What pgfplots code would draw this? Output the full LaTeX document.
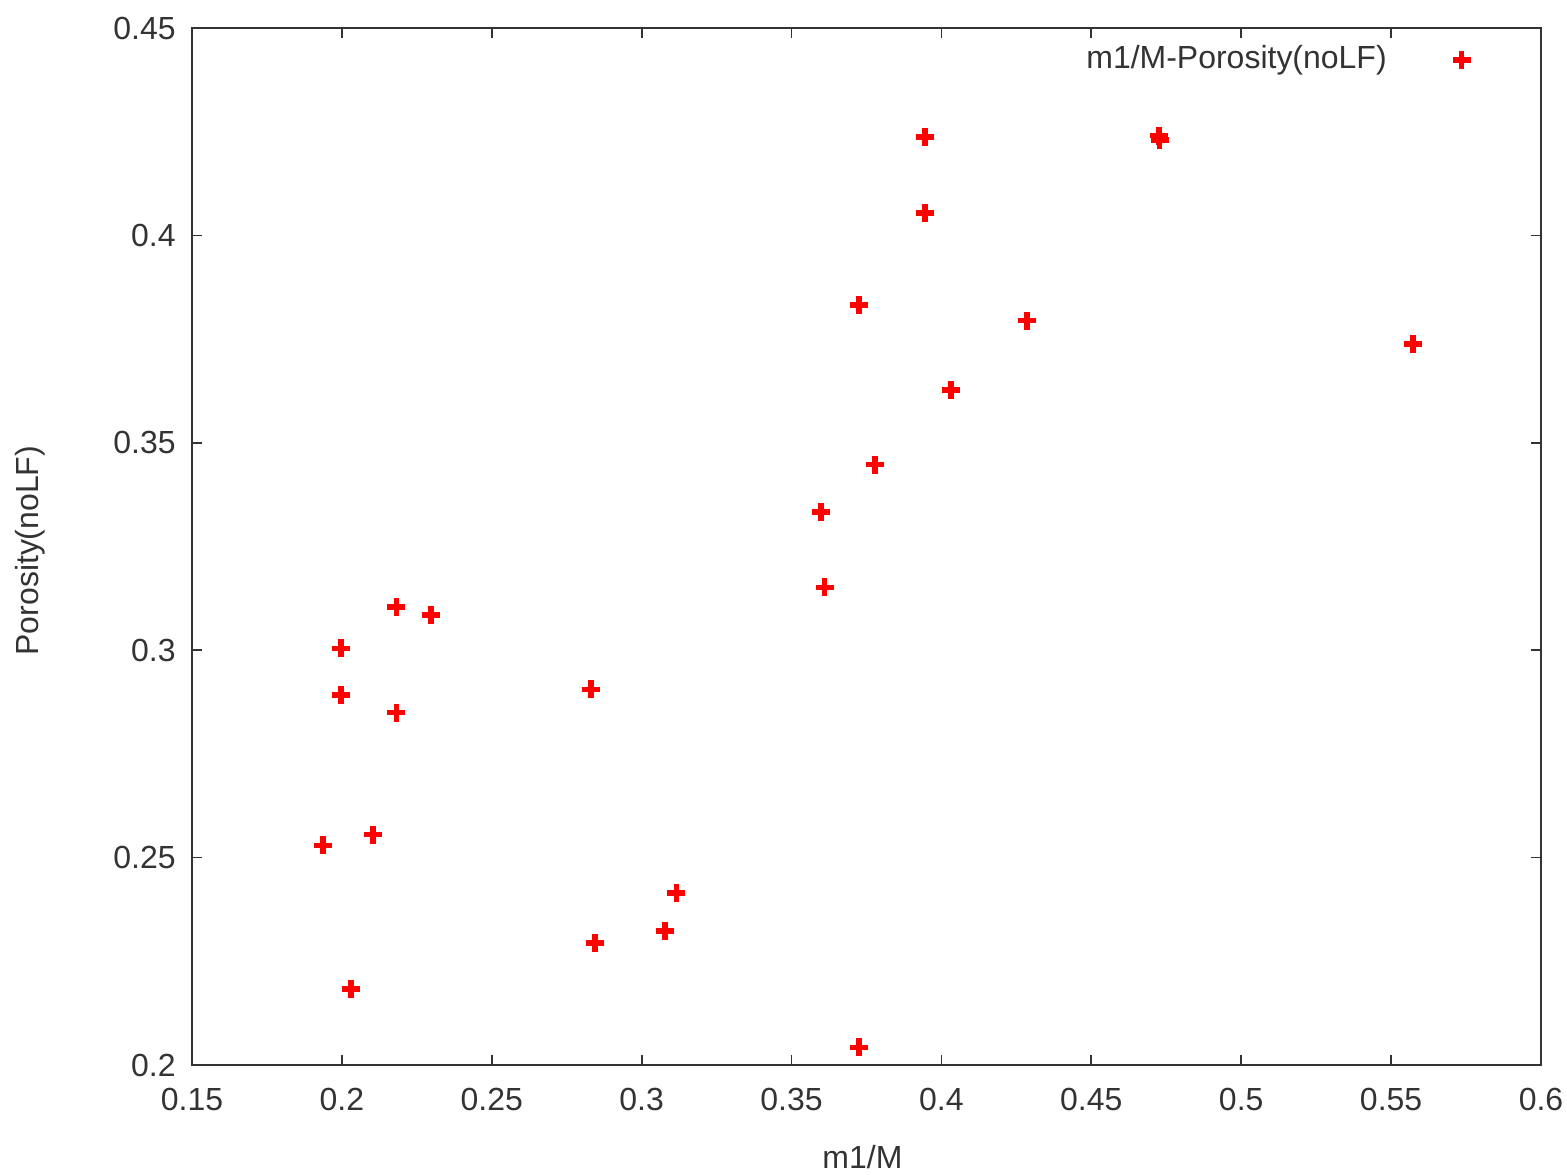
\documentclass[border=0pt]{standalone}
\usepackage{fontspec}
\setmainfont{Liberation Sans}
\usepackage{pgfplots}
\pgfplotsset{compat=1.18}
\pgfplotsset{wide legend mark/.style={
    legend image code/.code={\path[draw=none, fill=none] (0cm,0cm) -- (1.36cm,0cm);
        \draw[##1, only marks] plot coordinates {(0.68cm,0cm)};}}}

\begin{document}
\begin{tikzpicture}
\begin{axis}[
    at={(0,0)}, anchor=south west,
    scale only axis,
    width=134.9mm, height=103.7mm,
    xmin=0.15, xmax=0.6,
    ymin=0.2, ymax=0.45,
    xtick={0.15,0.2,...,0.6},
    ytick={0.2,0.25,...,0.45},
    xticklabels={0.15,0.2,0.25,0.3,0.35,0.4,0.45,0.5,0.55,0.6},
    yticklabels={0.2,0.25,0.3,0.35,0.4,0.45},
    tick align=inside,
    major tick length=1mm,
    axis line style={black!80, line width=0.5pt},
    tick style={black!80, line width=0.5pt},
    font=\fontsize{9}{11}\selectfont,
    tick label style={black!80, font=\fontsize{9.1}{11}\selectfont},
    xticklabel style={yshift=-1.1mm},
    yticklabel style={xshift=-0.4mm},
    /pgf/number format/assume math mode=true,
    xlabel={m1/M},
    ylabel={Porosity(noLF)},
    label style={black!80, font=\fontsize{9.1}{11}\selectfont},
    xlabel style={at={(axis description cs:0.497,0)}, anchor=center, yshift=-9.2mm},
    ylabel style={at={(axis description cs:-0.12,0.496)}, anchor=center},
    legend plot pos=right,
    legend style={draw=none, fill=none, at={(rel axis cs:1,1)}, anchor=north east,
        xshift=0mm, yshift=-0.3mm, font=\fontsize{9.1}{11}\selectfont, text=black!80},
]
\addplot[only marks, mark=+, color=red, mark size=2.6pt, line width=1.5pt, wide legend mark]
coordinates {
    (0.3945,0.4237)
    (0.4726,0.4240)
    (0.4728,0.4230)
    (0.3945,0.4054)
    (0.3725,0.3832)
    (0.4285,0.3794)
    (0.5573,0.3738)
    (0.4032,0.3627)
    (0.3778,0.3447)
    (0.3598,0.3333)
    (0.3611,0.3152)
    (0.2181,0.3104)
    (0.2297,0.3085)
    (0.1997,0.3005)
    (0.2831,0.2906)
    (0.1997,0.2892)
    (0.2181,0.2849)
    (0.2104,0.2555)
    (0.1937,0.2530)
    (0.3115,0.2415)
    (0.3078,0.2323)
    (0.2844,0.2294)
    (0.2030,0.2183)
    (0.3725,0.2043)
};
\addlegendentry{m1/M-Porosity(noLF)}
\end{axis}
\pgfresetboundingbox
\path[use as bounding box] (-19.2mm,-10.9mm) rectangle (137.5mm,106.5mm);
\end{tikzpicture}
\end{document}
